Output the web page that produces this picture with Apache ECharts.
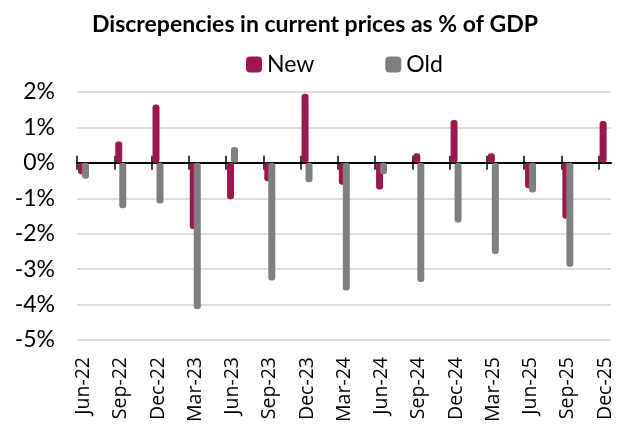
<!DOCTYPE html>
<html lang="en">
<head>
    <meta charset="utf-8">
    <title>Discrepencies in current prices as % of GDP</title>
    <script src="https://cdn.jsdelivr.net/npm/echarts@6.0.0/dist/echarts.min.js"></script>
    <style>
        html, body { margin: 0; padding: 0; background: #fff; }
        #chart { width: 630px; height: 430px; }
    </style>
</head>
<body>
    <div id="chart"></div>
    <script>
        // quarterly categories
        var categories = ['Jun-22', 'Sep-22', 'Dec-22', 'Mar-23', 'Jun-23', 'Sep-23', 'Dec-23', 'Mar-24',
            'Jun-24', 'Sep-24', 'Dec-24', 'Mar-25', 'Jun-25', 'Sep-25', 'Dec-25'];
        // discrepancy, % of GDP
        var newValues = [-0.32, 0.6, 1.65, -1.87, -1.03, -0.52, 1.95, -0.62, -0.75, 0.27, 1.21, 0.27, -0.72, -1.58, 1.18];
        var oldValues = [-0.45, -1.28, -1.15, -4.13, 0.45, -3.32, -0.55, -3.6, -0.32, -3.36, -1.68, -2.57, -0.84, -2.93, null];
        var yMin = -5, yMax = 2, yStep = 1;

        // the original axis is a monthly date axis, ticks every quarter
        var monthsPerCat = 3;
        var axisMonths = categories.length * monthsPerCat - 2;
        var quarterTicks = categories.map(function (c, i) { return i * monthsPerCat; });

        var chart = echarts.init(document.getElementById('chart'));

        var option = {
            animation: false,
            title: {
                text: 'Discrepencies in current prices as % of GDP',
                left: 92,
                top: 13,
                padding: 0,
                textStyle: { fontFamily: 'Lato', fontWeight: 'bold', fontSize: 23, color: '#000' }
            },
            legend: {
                data: ['New', 'Old'],
                left: 246,
                top: 53,
                padding: 0,
                itemWidth: 16,
                itemHeight: 16,
                itemGap: 71,
                icon: 'roundRect',
                textStyle: { fontFamily: 'Lato', fontSize: 23, color: '#000' }
            },
            grid: [
                { left: 77, right: 19, top: 92, bottom: 90 },     // frame: gridlines + ticks
                { left: 83.5, right: 24.9, top: 92, bottom: 90 }  // bars + labels
            ],
            yAxis: [{
                gridIndex: 0,
                type: 'value',
                min: yMin, max: yMax, interval: yStep,
                axisLine: { show: false },
                axisTick: { show: false },
                axisLabel: {
                    formatter: '{value}%', margin: 22,
                    fontFamily: 'Lato', fontSize: 23, color: '#000'
                },
                splitLine: { lineStyle: { color: '#dcdcdc', width: 2 } }
            }, {
                gridIndex: 1,
                type: 'value',
                min: yMin, max: yMax, interval: yStep,
                show: false
            }],
            xAxis: [{
                gridIndex: 0,
                type: 'value',
                min: 0, max: axisMonths,
                axisLine: { onZero: true, onZeroAxisIndex: 0, lineStyle: { color: '#000', width: 2 } },
                axisTick: { show: true, length: 7, customValues: quarterTicks, lineStyle: { color: '#000', width: 1.5 } },
                axisLabel: { show: false },
                splitLine: { show: false }
            }, {
                gridIndex: 0,
                type: 'value',
                position: 'bottom',
                min: 0, max: axisMonths,
                axisLine: { show: false, onZero: true, onZeroAxisIndex: 0 },
                axisTick: { show: true, inside: true, length: 7, customValues: quarterTicks, lineStyle: { color: '#000', width: 1.5 } },
                axisLabel: { show: false },
                splitLine: { show: false }
            }, {
                gridIndex: 1,
                type: 'category',
                data: categories,
                boundaryGap: false,
                position: 'bottom',
                axisLine: { show: false, onZero: false },
                axisTick: { show: false },
                axisLabel: {
                    rotate: 90, margin: 17, interval: 0,
                    fontFamily: 'Open Sans', fontSize: 19.5, color: '#000'
                },
                splitLine: { show: false }
            }],
            series: [{
                name: 'New',
                type: 'bar',
                xAxisIndex: 2,
                yAxisIndex: 1,
                data: newValues,
                barWidth: 7,
                barGap: '-43%',
                clip: false,
                itemStyle: { color: '#9a1750', borderRadius: 3 }
            }, {
                name: 'Old',
                type: 'bar',
                xAxisIndex: 2,
                yAxisIndex: 1,
                data: oldValues,
                barWidth: 7,
                barGap: '-43%',
                clip: false,
                itemStyle: { color: '#7f7f7f', borderRadius: 3 }
            }]
        };

        chart.setOption(option, true);
    </script>
</body>
</html>
